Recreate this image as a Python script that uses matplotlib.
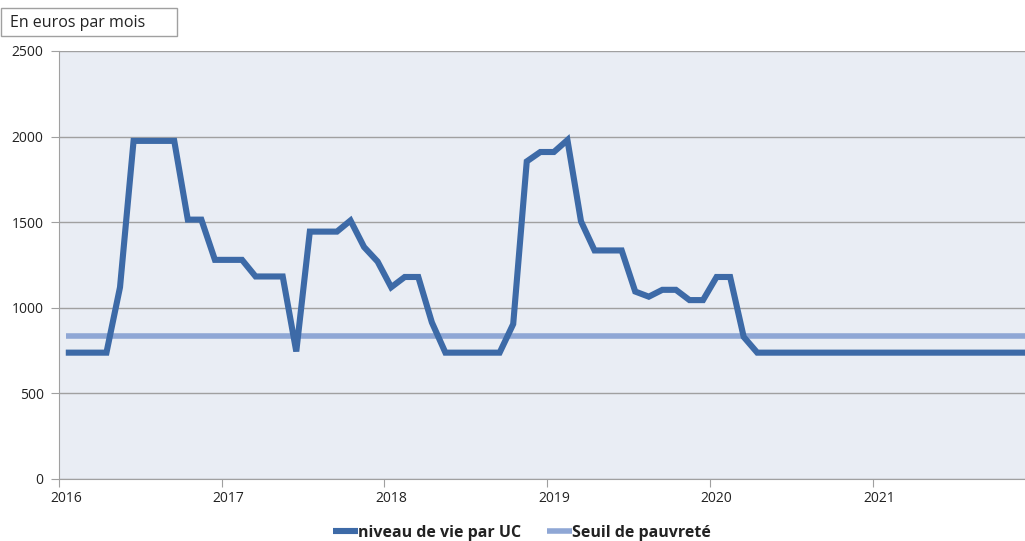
import numpy as np
import matplotlib.pyplot as plt
from matplotlib.patches import Rectangle

# monthly values, Jan 2016 - Dec 2021 (euros per month)
niveau_vie = [738, 738, 738, 738, 1120, 1975, 1975, 1975, 1975, 1515, 1515, 1280,
              1280, 1280, 1183, 1183, 1183, 745, 1445, 1445, 1445, 1510, 1355, 1270,
              1120, 1180, 1180, 915, 738, 738, 738, 738, 738, 905, 1855, 1910,
              1910, 1980, 1505, 1335, 1335, 1335, 1095, 1065, 1105, 1105, 1045, 1045,
              1180, 1180, 830, 738, 738, 738, 738, 738, 738, 738, 738, 738,
              738, 738, 738, 738, 738, 738, 738, 738, 738, 738, 738, 738]
seuil = [835] * 72
years = [2016, 2017, 2018, 2019, 2020, 2021]
y_ticks = [0, 500, 1000, 1500, 2000, 2500]

plt.rcParams['font.family'] = ['Open Sans', 'DejaVu Sans']

# points sit at the middle of each month
x = 2016 + (np.arange(len(niveau_vie)) + 0.5) / 12

fig = plt.figure(figsize=(10.25, 5.41), dpi=100)
ax = fig.add_axes([59 / 1025, 1 - 479 / 541, 1 - 59 / 1025, 428 / 541])
ax.set_facecolor('#e9edf4')

ax.plot(x, seuil, color='#8fa7d5', lw=4.0, solid_capstyle='butt',
        label='Seuil de pauvreté', zorder=3)
ax.plot(x, niveau_vie, color='#3d6aa7', lw=4.4, solid_joinstyle='miter',
        solid_capstyle='butt', label='niveau de vie par UC', zorder=4)

ax.set_ylim(0, 2500)
ax.set_xlim(2016, 2016 + 966 / 162.7)
ax.set_yticks(y_ticks)
ax.yaxis.grid(True, color='#a0a0a0', lw=1)
ax.set_axisbelow(True)

# year ticks on boundaries, labels centred on the January point
ax.set_xticks(years)
ax.set_xticklabels([''] * len(years))
ax.set_xticks([yr + 0.5 / 12 for yr in years], minor=True)
ax.set_xticklabels([str(yr) for yr in years], minor=True)
ax.tick_params(axis='x', which='minor', length=0, pad=9, labelsize=10,
               labelcolor='#222222')
ax.tick_params(axis='x', which='major', length=6, color='#a0a0a0')
ax.tick_params(axis='y', length=6, color='#a0a0a0', labelsize=10, pad=5,
               labelcolor='#222222')

for side in ['top', 'right']:
    ax.spines[side].set_visible(False)
for side in ['left', 'bottom']:
    ax.spines[side].set_color('#a0a0a0')

handles, labels = ax.get_legend_handles_labels()
fig.legend(handles[::-1], labels[::-1], loc='center', bbox_to_anchor=(522 / 1025, 1 - 533 / 541),
           ncol=2, frameon=False, prop={'size': 11.5, 'weight': 'bold'},
           handlelength=1.6, handletextpad=0.0, columnspacing=1.6,
           labelcolor='#222222')

fig.patches.append(Rectangle((1 / 1025, 1 - 36 / 541), 176 / 1025, 28 / 541,
                             transform=fig.transFigure, facecolor='white',
                             edgecolor='#a0a0a0', lw=1))
fig.text(10 / 1025, 1 - 23 / 541, 'En euros par mois', fontsize=11.5, va='center',
         color='#222222')

fig.savefig('out.png', dpi=100)
